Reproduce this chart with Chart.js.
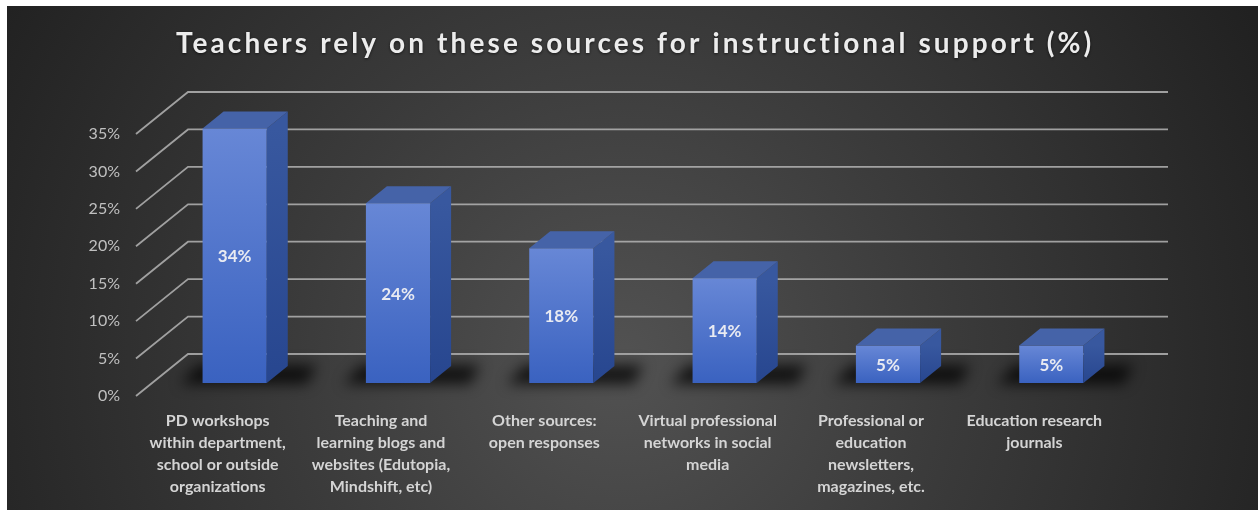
<!DOCTYPE html>
<html>
<head>
<meta charset="utf-8">
<script src="https://cdn.jsdelivr.net/npm/chart.js@4.4.1/dist/chart.umd.min.js"></script>
<style>
  html, body { margin: 0; padding: 0; background: #fff; }
  #wrap { width: 1258px; height: 510px; }
</style>
</head>
<body>
<div id="wrap"><canvas id="sourcesChart" width="1258" height="510"></canvas></div>
<script>
// Chart data
const titleText = "Teachers rely on these sources for instructional support (%)";
const categories = [
    ["PD workshops", "within department,", "school or outside", "organizations"],
    ["Teaching and", "learning blogs and", "websites (Edutopia,", "Mindshift, etc)"],
    ["Other sources:", "open responses"],
    ["Virtual professional", "networks in social", "media"],
    ["Professional or", "education", "newsletters,", "magazines, etc."],
    ["Education research", "journals"]
];
const percentValues = [34, 24, 18, 14, 5, 5];
const tickValues = [0, 5, 10, 15, 20, 25, 30, 35];

// 3D offsets relative to the plane the bars stand on
const FRONT = { dx: -17, dy: 13 };
const BACK = { dx: 35, dy: -29 };
const DEPTH = { dx: 21, dy: -17 };

function poly(ctx, pts) {
    ctx.beginPath();
    ctx.moveTo(pts[0][0], pts[0][1]);
    for (let i = 1; i < pts.length; i++) ctx.lineTo(pts[i][0], pts[i][1]);
    ctx.closePath();
}

// background, walls, shadows, side/top faces, value labels and spaced title
const scene3d = {
    id: "scene3d",
    beforeDraw(chart) {
        const ctx = chart.ctx;
        const { left, right } = chart.chartArea;
        const y = chart.scales.y;
        ctx.save();
        ctx.fillStyle = "#ffffff";
        ctx.fillRect(0, 0, chart.width, chart.height);
        const bg = ctx.createRadialGradient(620, 360, 0, 620, 360, 720);
        bg.addColorStop(0, "#525252");
        bg.addColorStop(0.45, "#3b3b3b");
        bg.addColorStop(1, "#212121");
        ctx.fillStyle = bg;
        ctx.fillRect(7, 6, chart.width - 7, chart.height - 6);

        ctx.strokeStyle = "rgba(180,180,180,0.85)";
        ctx.lineWidth = 1.8;
        tickValues.forEach(v => {
            const py = y.getPixelForValue(v);
            ctx.beginPath();
            ctx.moveTo(left + FRONT.dx, py + FRONT.dy);
            ctx.lineTo(left + BACK.dx, py + BACK.dy);
            ctx.lineTo(right + BACK.dx, py + BACK.dy);
            ctx.stroke();
        });

        // title, stretched with letter spacing like the original
        ctx.font = "bold 28px Lato";
        ctx.fillStyle = "#ececec";
        ctx.textAlign = "left";
        ctx.textBaseline = "alphabetic";
        const w = ctx.measureText(titleText).width;
        ctx.letterSpacing = ((916 - w) / (titleText.length - 1)).toFixed(2) + "px";
        ctx.shadowColor = "rgba(0,0,0,0.6)";
        ctx.shadowBlur = 3;
        ctx.shadowOffsetY = 1;
        ctx.fillText(titleText, 176, 53);
        ctx.restore();
    },
    beforeDatasetsDraw(chart) {
        const ctx = chart.ctx;
        ctx.save();
        ctx.filter = "blur(7px)";
        ctx.fillStyle = "rgba(0,0,0,0.75)";
        chart.getDatasetMeta(0).data.forEach(bar => {
            const l = bar.x - bar.width / 2, r = bar.x + bar.width / 2;
            poly(ctx, [[l - 22, bar.base + 1], [r + 40, bar.base + 1], [r + 50, bar.base - 18], [l - 5, bar.base - 18]]);
            ctx.fill();
        });
        ctx.restore();
    },
    afterDatasetsDraw(chart) {
        const ctx = chart.ctx;
        const meta = chart.getDatasetMeta(0);
        ctx.save();
        meta.data.forEach((bar, i) => {
            const l = bar.x - bar.width / 2, r = bar.x + bar.width / 2;
            const top = bar.y, base = bar.base;
            const side = ctx.createLinearGradient(0, top, 0, base);
            side.addColorStop(0, "#38589f");
            side.addColorStop(1, "#27468f");
            ctx.fillStyle = side;
            poly(ctx, [[r, top], [r + DEPTH.dx, top + DEPTH.dy], [r + DEPTH.dx, base + DEPTH.dy], [r, base]]);
            ctx.fill();
            ctx.fillStyle = "#4563a8";
            poly(ctx, [[l, top], [l + DEPTH.dx, top + DEPTH.dy], [r + DEPTH.dx, top + DEPTH.dy], [r, top]]);
            ctx.fill();

            ctx.fillStyle = "#e9ebf2";
            ctx.font = "bold 17px Lato";
            ctx.textAlign = "center";
            ctx.textBaseline = "middle";
            ctx.fillText(percentValues[i] + "%", bar.x, (top + base) / 2 + 1);
        });
        ctx.restore();
    }
};

const sourcesChart = new Chart(document.getElementById("sourcesChart"), {
    type: "bar",
    data: {
        labels: categories,
        datasets: [{
            label: "Teachers (%)",
            data: percentValues,
            backgroundColor: ctx => {
                const chart = ctx.chart;
                const y = chart.scales.y;
                if (!y || !chart.chartArea) return "#4a6fcc";
                const top = y.getPixelForValue(ctx.raw);
                const base = y.getPixelForValue(0);
                const g = chart.ctx.createLinearGradient(0, top, 0, base);
                g.addColorStop(0, "#6787d6");
                g.addColorStop(1, "#3a62c0");
                return g;
            },
            borderWidth: 0,
            categoryPercentage: 1,
            barPercentage: 0.393
        }]
    },
    options: {
        responsive: false,
        animation: false,
        devicePixelRatio: 1,
        layout: { padding: { left: 0, right: 125, top: 121, bottom: 12 } },
        plugins: {
            legend: { display: false },
            tooltip: { enabled: false },
            title: { display: false }
        },
        scales: {
            x: {
                afterFit: s => { s.height = 115; },
                grid: { display: false, drawTicks: false },
                border: { display: false },
                ticks: {
                    color: "#d4d4d4",
                    font: { family: "Lato", size: 16, weight: "bold", lineHeight: 1.375 },
                    padding: 27,
                    labelOffset: FRONT.dx,
                    maxRotation: 0,
                    autoSkip: false
                }
            },
            y: {
                min: 0,
                max: 35,
                afterBuildTicks: s => { s.ticks = tickValues.map(v => ({ value: v })); },
                afterFit: s => { s.width = 153; },
                grid: { display: false, drawTicks: false },
                border: { display: false },
                ticks: {
                    color: "#c0c0c0",
                    font: { family: "Lato", size: 16 },
                    padding: 33,
                    labelOffset: FRONT.dy,
                    callback: v => v + "%"
                }
            }
        }
    },
    plugins: [scene3d]
});
</script>
</body>
</html>
